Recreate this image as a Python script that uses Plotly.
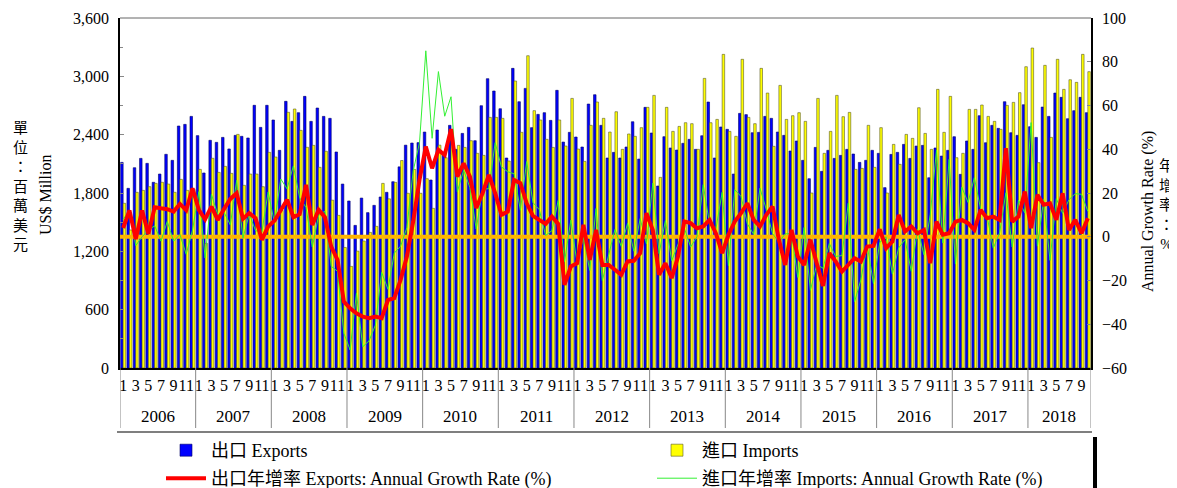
import plotly.graph_objects as go

# ---------------- data (US$ million, monthly Jan 2006 - Oct 2018) ----------------
years = [str(y) for y in range(2006, 2019)]
month_labels = ["1", "3", "5", "7", "9", "11"]

exports = [
    2115, 1848, 2060, 2156, 2105, 1910, 1995, 2198, 2136, 2489, 2506, 2588,  # 2006
    2390, 2006, 2342, 2321, 2372, 2253, 2393, 2383, 2366, 2702, 2475, 2702,  # 2007
    2551, 2239, 2743, 2537, 2626, 2794, 2537, 2674, 2588, 2568, 2222, 1892,  # 2008
    1718, 1467, 1748, 1598, 1673, 1759, 1807, 1916, 2069, 2292, 2314, 2318,  # 2009
    2427, 1934, 2448, 2200, 2496, 2249, 2413, 2475, 2338, 2698, 2976, 2849,  # 2010
    2667, 2160, 3082, 2739, 2876, 2472, 2609, 2626, 2547, 2856, 2324, 2424,  # 2011
    2376, 2273, 2715, 2811, 2496, 2160, 2218, 2160, 2273, 2533, 2149, 2681,  # 2012
    2417, 1872, 2379, 2263, 2242, 2311, 2352, 2249, 2389, 2736, 2160, 2479,  # 2013
    2455, 1995, 2619, 2606, 2420, 2424, 2588, 2568, 2427, 2393, 2232, 2335,  # 2014
    2136, 1947, 2269, 2023, 2239, 2156, 2187, 2249, 2201, 2115, 2136, 2239,  # 2015
    2208, 1855, 2197, 2218, 2300, 2156, 2283, 2290, 1957, 2263, 2180, 2239,  # 2016
    2379, 1992, 2335, 2249, 2595, 2317, 2496, 2465, 2739, 2420, 2393, 2708,  # 2017
    2482, 2372, 2684, 2588, 2828, 2784, 2564, 2647, 2784, 2626,              # 2018
]

imports = [
    1694, 1420, 1807, 1827, 1865, 1899, 1910, 1892, 1807, 1940, 1827, 1840,  # 2006
    2043, 1282, 2157, 2012, 2074, 2002, 2403, 1879, 1995, 1995, 1865, 2218,  # 2007
    2170, 1620, 2630, 2664, 2444, 2270, 2290, 2064, 2229, 1726, 1570, 1240,  # 2008
    1045, 1202, 1306, 1395, 1457, 1899, 1740, 1909, 2134, 1797, 2043, 1797,  # 2009
    1947, 1642, 2292, 2163, 2390, 2290, 2269, 2338, 2208, 2187, 2578, 2578,  # 2010
    2568, 2129, 2952, 2424, 3212, 2647, 2551, 2352, 2269, 2551, 2283, 2773,  # 2011
    2252, 2125, 2496, 2736, 2568, 2427, 2636, 2249, 2407, 2383, 2472, 2681,  # 2012
    2804, 1961, 2681, 2434, 2485, 2523, 2513, 2249, 2979, 2523, 2557, 3226,  # 2013
    2434, 2383, 3175, 2578, 2513, 3082, 2828, 2280, 2907, 2557, 2595, 2626,  # 2014
    2537, 1800, 2773, 2208, 2434, 2804, 2585, 2629, 2043, 2053, 2496, 2064,  # 2015
    2472, 1800, 2300, 2095, 2403, 2362, 2677, 2413, 2249, 2866, 2424, 2794,  # 2016
    2163, 2208, 2660, 2660, 2705, 2588, 2537, 2455, 2701, 2732, 2832, 3099,  # 2017
    3291, 2112, 3113, 2372, 3175, 2866, 2965, 2938, 3226, 3048,              # 2018
]

exports_growth = [
    4.0, 12.0, -1.1, 12.0, 1.3, 13.5, 13.0, 12.6, 11.5, 15.0, 12.1, 22.2,        # 2006
    12.3, 8.0, 13.8, 7.7, 12.7, 17.3, 19.9, 8.2, 10.8, 8.5, -1.4, 4.7,          # 2007
    7.3, 12.3, 16.9, 8.9, 10.3, 23.7, 5.4, 12.3, 8.9, -4.5, -10.6, -29.6,       # 2008
    -32.7, -35.0, -36.5, -37.2, -36.5, -37.2, -28.9, -28.1, -19.7, -9.0, 7.0, 26.0,  # 2009
    41.2, 31.3, 39.7, 37.4, 49.2, 27.5, 33.6, 27.5, 13.1, 19.9, 28.3, 19.9,     # 2010
    10.0, 11.5, 26.0, 24.5, 15.3, 9.5, 7.7, 5.9, 9.2, 5.9, -22.0, -13.6,        # 2011
    -12.1, 5.4, -10.6, 3.1, -12.9, -12.9, -15.1, -17.4, -11.3, -11.0, -7.5, 10.8,  # 2012
    3.1, -17.4, -12.1, -18.9, -9.0, 7.0, 6.2, 3.9, 4.7, 7.7, 1.6, -7.5,         # 2013
    0.9, 7.0, 10.8, 15.3, 7.7, 4.7, 10.0, 13.8, -1.4, -12.9, 3.1, -9.0,         # 2014
    -12.9, -1.4, -12.1, -22.5, -7.5, -11.3, -15.9, -12.9, -9.8, -11.3, -4.5, -4.2,  # 2015
    3.4, -5.2, -2.2, 10.0, 2.4, 4.7, 1.6, 3.1, -12.1, 6.9, 0.9, 1.6,            # 2016
    6.9, 7.7, 6.2, 3.1, 12.3, 8.5, 9.2, 7.7, 40.5, 6.9, 9.2, 20.7,              # 2017
    3.9, 19.2, 14.6, 15.3, 7.7, 19.9, 3.1, 7.7, 1.6, 8.5,                       # 2018
]

imports_growth = [
    8.0, 12.0, -4.0, 0.0, 3.0, 5.0, -2.0, 7.0, -2.0, 1.0, -8.0, 3.0,            # 2006
    20.6, -9.7, 19.4, 10.1, 11.2, 5.4, 25.8, -0.7, 10.4, 2.8, 2.1, 20.5,        # 2007
    6.2, 26.4, 21.9, 32.4, 17.8, 13.4, -4.7, 9.8, 11.7, -13.5, -15.8, -44.1,    # 2008
    -51.8, -25.8, -50.3, -47.6, -40.4, -16.3, -24.0, -7.5, -4.3, 4.1, 30.1, 43.0,  # 2009
    85.0, 45.0, 75.5, 55.1, 64.0, 20.6, 30.4, 22.5, 3.5, 21.7, 22.0, 43.0,      # 2010
    31.9, 29.7, 28.8, 12.1, 34.4, 15.6, 12.4, 0.6, 2.8, 16.6, -11.4, 7.6,       # 2011
    -12.3, -0.2, -15.4, 12.9, -20.0, -8.3, 3.3, -4.4, 6.1, -6.6, 8.3, -3.3,     # 2012
    24.5, -7.7, 7.4, -11.0, -3.2, 4.0, -4.7, 0.0, 23.8, 5.9, 3.4, 20.3,         # 2013
    -13.2, 21.5, 18.4, 5.9, 1.1, 22.2, 12.5, 1.4, -2.4, 1.3, 1.5, -18.6,        # 2014
    4.2, -24.5, -12.7, -14.4, -3.1, -9.0, -8.6, 15.3, -29.7, -19.7, -3.8, -21.4,  # 2015
    -2.6, 0.0, -17.1, -5.1, -1.3, -15.8, 3.6, -8.2, 10.1, 39.6, -2.9, 35.4,     # 2016
    -12.5, 22.7, 15.7, 27.0, 12.6, 9.6, -5.2, 1.7, 20.1, -4.7, 16.8, 10.9,      # 2017
    52.2, -4.3, 17.0, -10.8, 17.4, 10.7, 16.9, 19.7, 19.4, 11.6,                # 2018
]

n = len(exports)
x = list(range(n))

SERIF = "Liberation Serif, 'Times New Roman', 'Noto Sans CJK TC', serif"

# The page body has an 8px margin, so the figure is drawn 8px in from the
# window's top-left corner; size it so it ends at the window's edges.
OFF = 8
W, H = 1177 - OFF, 488 - OFF
L, R, T, B = 120 - OFF, 86, 18 - OFF, 120
plot_w = W - L - R
plot_h = H - T - B


def py(pix):  # window pixel -> paper y
    return (H - B - (pix - OFF)) / plot_h


def px(pix):  # window pixel -> paper x
    return (pix - OFF - L) / plot_w


fig = go.Figure()

fig.add_trace(go.Bar(
    x=x, y=exports, name="出口 Exports",
    marker=dict(color="#0000FF", line=dict(color="#000066", width=0.6)),
    legend="legend",
))
fig.add_trace(go.Bar(
    x=x, y=imports, name="進口 Imports",
    marker=dict(color="#FFFF00", line=dict(color="#5a5a2a", width=0.6)),
    legend="legend2",
))
# zero reference line on the growth axis
fig.add_trace(go.Scatter(
    x=[x[0] - 0.5, x[-1] + 0.5], y=[0, 0], yaxis="y2", mode="lines",
    line=dict(color="#FFB400", width=4), showlegend=False, hoverinfo="skip",
))
fig.add_trace(go.Scatter(
    x=x, y=imports_growth, yaxis="y2", mode="lines",
    name="進口年增率 Imports: Annual Growth Rate (%)",
    line=dict(color="#33F033", width=1), legend="legend4",
))
fig.add_trace(go.Scatter(
    x=x, y=exports_growth, yaxis="y2", mode="lines",
    name="出口年增率 Exports: Annual Growth Rate (%)",
    line=dict(color="#FF0000", width=4), legend="legend3",
))

tickvals = list(range(0, n, 2))
ticktext = [month_labels[(k % 12) // 2] for k in tickvals]

annotations = []
for i, yr in enumerate(years):
    start = 12 * i
    end = min(12 * i + 11, n - 1)
    annotations.append(dict(
        x=(start + end) / 2, y=py(416), xref="x", yref="paper",
        xanchor="center", yanchor="middle",
        text=yr, showarrow=False, font=dict(family=SERIF, size=17, color="#000"),
    ))

annotations += [
    dict(x=px(20), y=py(186), xref="paper", yref="paper", showarrow=False,
         xanchor="center", yanchor="middle",
         text="單<br>位<br>：<br>百<br>萬<br>美<br>元",
         font=dict(family=SERIF, size=15, color="#000")),
    dict(x=px(45), y=py(195), xref="paper", yref="paper", showarrow=False,
         xanchor="center", yanchor="middle",
         text="US$ Million", textangle=-90,
         font=dict(family=SERIF, size=16, color="#000")),
    dict(x=px(1148), y=py(212), xref="paper", yref="paper", showarrow=False,
         xanchor="center", yanchor="middle",
         text="Annual Growth Rate (%)", textangle=-90,
         font=dict(family=SERIF, size=16, color="#000")),
    dict(x=px(1166), y=py(205), xref="paper", yref="paper", showarrow=False,
         xanchor="center", yanchor="middle",
         text="年<br>增<br>率<br>：<br>%",
         font=dict(family=SERIF, size=15, color="#000")),
]

shapes = [
    # thin grey frame line along the top of the plot
    dict(type="line", xref="paper", yref="paper", x0=0, x1=1, y0=1, y1=1,
         line=dict(color="#666666", width=1)),
]
for i in range(len(years) + 1):
    xb = min(12 * i, n) - 0.5
    shapes.append(dict(type="line", xref="x", yref="paper",
                       x0=xb, x1=xb, y0=0, y1=py(428),
                       line=dict(color="#888888", width=1)))
shapes.append(dict(type="line", xref="paper", yref="paper",
                   x0=px(117), x1=px(1092), y0=py(432), y1=py(432),
                   line=dict(color="#555555", width=1.5)))
shapes.append(dict(type="line", xref="paper", yref="paper",
                   x0=px(1095), x1=px(1095), y0=py(437), y1=py(488),
                   line=dict(color="#000000", width=4)))


def leg(xpix, ypix):
    return dict(
        orientation="h", x=px(xpix), xanchor="left", y=py(ypix), yanchor="top",
        bgcolor="rgba(0,0,0,0)", borderwidth=0,
        font=dict(family=SERIF, size=18, color="#000"), itemwidth=40,
    )


fig.update_layout(
    width=W, height=H,
    margin=dict(l=L, r=R, t=T, b=B, autoexpand=False),
    paper_bgcolor="white", plot_bgcolor="white",
    barmode="group", bargap=0.2, bargroupgap=0.0,
    font=dict(family=SERIF, size=16, color="#000"),
    xaxis=dict(
        range=[-0.5, n - 0.5], tickmode="array", tickvals=tickvals, ticktext=ticktext,
        tickangle=0, ticks="", showgrid=False, zeroline=False,
        showline=True, linecolor="#000", linewidth=1.5, mirror=False,
        tickfont=dict(family=SERIF, size=16), ticklabelstandoff=2, automargin=False,
    ),
    yaxis=dict(
        range=[0, 3600], dtick=600, tickformat=",", showgrid=False, zeroline=False,
        showline=True, linecolor="#000", linewidth=1.5,
        ticks="inside", ticklen=4, tickcolor="#888",
        minor=dict(dtick=300, ticks="inside", ticklen=3, tickcolor="#888"),
        tickfont=dict(family=SERIF, size=16), ticklabelstandoff=6, automargin=False,
    ),
    yaxis2=dict(
        range=[-60, 100], dtick=20, overlaying="y", side="right",
        showgrid=False, zeroline=False, showline=True, linecolor="#000", linewidth=1.5,
        ticks="inside", ticklen=4, tickcolor="#888",
        tickfont=dict(family=SERIF, size=16), ticklabelstandoff=6, automargin=False,
    ),
    legend=leg(161, 432),
    legend2=leg(652, 432),
    legend3=leg(161, 460),
    legend4=leg(652, 460),
    annotations=annotations,
    shapes=shapes,
    showlegend=True,
)

fig.write_html("out.html")
